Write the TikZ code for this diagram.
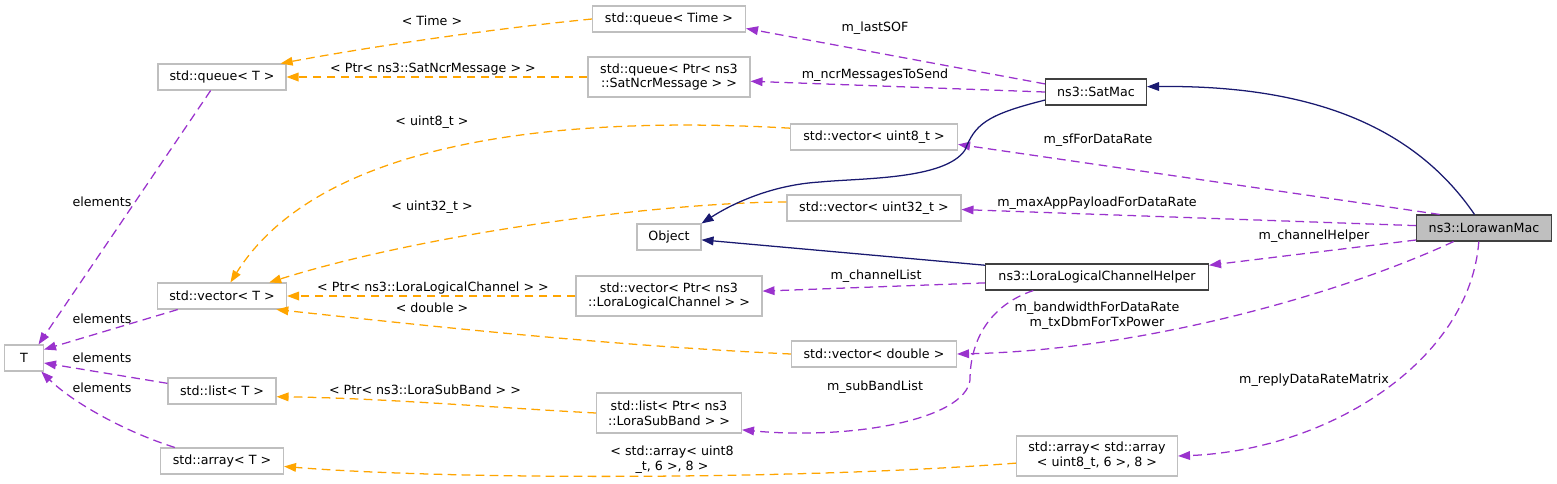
\documentclass[tikz,border=0pt]{standalone}
\usepackage{fontspec}
\setmainfont{DejaVu Sans}
\usetikzlibrary{arrows.meta}
\definecolor{tmplorange}{HTML}{FFA500}
\definecolor{usepurple}{HTML}{9A32CD}
\definecolor{inhnavy}{HTML}{191970}
\definecolor{boxgrey}{HTML}{BFBFBF}
\definecolor{boxdark}{HTML}{404040}
\tikzset{
  cls/.style={draw=boxgrey, fill=white, line width=0.8pt, inner sep=0pt, align=center,
    font=\fontsize{9.5}{11}\selectfont, minimum height=19.5pt},
  clstwo/.style={cls, minimum height=30pt},
  clsdark/.style={cls, draw=boxdark},
  lbl/.style={inner sep=0pt, align=center, font=\fontsize{9.5}{11}\selectfont},
  tmpl/.style={draw=tmplorange, line width=0.95pt, dash pattern=on 6.5pt off 4pt,
    -{Triangle[length=9pt,width=6.5pt,fill=tmplorange]}},
  memb/.style={draw=usepurple, line width=0.95pt, dash pattern=on 6.5pt off 4pt,
    -{Triangle[length=9pt,width=6.5pt,fill=usepurple]}},
  inher/.style={draw=inhnavy, line width=0.95pt,
    -{Triangle[length=9pt,width=6.5pt,fill=inhnavy]}}
}
\begin{document}
\begin{tikzpicture}[x=0.75pt, y=-0.75pt]
        \useasboundingbox (0,0) rectangle (1557,483);
        %% classes (pixel coordinates)
        \node[cls, minimum width=96pt] (qT) at (222,77) {std::queue< T >};
        \node[cls, minimum width=96.75pt] (vT) at (222,296) {std::vector< T >};
        \node[cls, minimum width=29.25pt] (T) at (24,358) {T};
        \node[cls, minimum width=81pt] (lT) at (222,391) {std::list< T >};
        \node[cls, minimum width=92.25pt] (aT) at (222,461) {std::array< T >};
        \node[cls, minimum width=114.75pt] (qTime) at (669,19) {std::queue< Time >};
        \node[clstwo, minimum width=121.5pt] (qNcr) at (669,77) {std::queue< Ptr< ns3\\::SatNcrMessage > >};
        \node[cls, minimum width=48pt] (obj) at (669,237) {Object};
        \node[clstwo, minimum width=139.5pt] (vLLC) at (669,296) {std::vector< Ptr< ns3\\::LoraLogicalChannel > >};
        \node[clstwo, minimum width=108.75pt] (lSub) at (669,413) {std::list< Ptr< ns3\\::LoraSubBand > >};
        \node[cls, minimum width=125.25pt] (v8) at (874,137) {std::vector< uint8\_t >};
        \node[cls, minimum width=130.5pt] (v32) at (874,208) {std::vector< uint32\_t >};
        \node[cls, minimum width=123.75pt] (vDbl) at (874,354) {std::vector< double >};
        \node[clstwo, minimum width=120.75pt] (aa) at (1097,456) {std::array< std::array\\< uint8\_t, 6 >, 8 >};
        \node[clsdark, minimum width=75.75pt] (sat) at (1096,92) {ns3::SatMac};
        \node[clsdark, minimum width=167.25pt] (helper) at (1097,277) {ns3::LoraLogicalChannelHelper};
        \node[clsdark, fill=boxgrey, minimum width=101.25pt] (lw) at (1484,228) {ns3::LorawanMac};

        %% edge labels
        \node[lbl] (lTime) at (432,21) {< Time >};
        \node[lbl] (lNcr) at (433,69) {< Ptr< ns3::SatNcrMessage > >};
        \node[lbl] (lU8) at (432,122) {< uint8\_t >};
        \node[lbl] (lU32) at (432,207) {< uint32\_t >};
        \node[lbl] (lLLC) at (433,288) {< Ptr< ns3::LoraLogicalChannel > >};
        \node[lbl] (lDbl) at (432,308) {< double >};
        \node[lbl] (lSubB) at (425,390) {< Ptr< ns3::LoraSubBand > >};
        \node[lbl] (lArr) at (672,460) {< std::array< uint8\\\_t, 6 >, 8 >};
        \foreach \nm/\py in {lElQ/202, lElV/319, lElL/358, lElA/388}
        {
            \node[lbl] (\nm) at (102,\py) {elements};
        }
        \node[lbl] (lSOF) at (875,28) {m\_lastSOF};
        \node[lbl] (lNcrS) at (875,75) {m\_ncrMessagesToSend};
        \node[lbl] (lSf) at (1098,140) {m\_sfForDataRate};
        \node[lbl] (lMax) at (1097,203) {m\_maxAppPayloadForDataRate};
        \node[lbl] (lCh) at (1314,236) {m\_channelHelper};
        \node[lbl] (lChL) at (876,276) {m\_channelList};
        \node[lbl] (lBw) at (1097,316) {m\_bandwidthForDataRate\\m\_txDbmForTxPower};
        \node[lbl] (lSb) at (875,387) {m\_subBandList};
        \node[lbl] (lRep) at (1314,380) {m\_replyDataRateMatrix};

        %% template instances
        \draw[tmpl] (qTime.west) .. controls (500,28) and (380,45) .. (qT.13);
        \draw[tmpl] (qNcr.west) -- (qT.east);
        \draw[tmpl] (v8.174) .. controls (560,115) and (320,140) .. (vT.58);
        \draw[tmpl] (v32.176) .. controls (650,203) and (420,235) .. (vT.16);
        \draw[tmpl] (vLLC.west) -- (vT.east);
        \draw[tmpl] (vDbl.west) .. controls (600,345) and (420,325) .. (vT.-14);
        \draw[tmpl] (lSub.west) .. controls (500,408) and (380,398) .. (lT.-6);
        \draw[tmpl] (aa.185) .. controls (800,480) and (450,480) .. (aT.-5);

        %% members
        \draw[memb] (qT.-130) -- (T.43);
        \draw[memb] (vT.-163) -- (T.23);
        \draw[memb] (lT.172) -- (T.-14);
        \draw[memb] (aT.164) .. controls (120,430) and (70,400) .. (T.-38);
        \draw[memb] (sat.171) -- (qTime.-7);
        \draw[memb] (sat.west) -- (qNcr.-3);
        \draw[memb] (lw.163) -- (v8.-5);
        \draw[memb] (lw.178) -- (v32.-1);
        \draw[memb] (lw.-170) -- (helper.6);
        \draw[memb] (lw.-156) .. controls (1350,290) and (1150,350) .. (vDbl.east);
        \draw[memb] (lw.-111) .. controls (1470,360) and (1330,450) .. (aa.east);
        \draw[memb] (helper.-177) -- (vLLC.3);
        \draw[memb] (helper.-168) .. controls (990,305) and (970,340) .. (970,380)
            .. controls (965,420) and (850,440) .. (lSub.-13);

        %% inheritance
        \draw[inher] (lw.125) .. controls (1410,120) and (1300,85) .. (sat.6);
        \draw[inher] (sat.-171) .. controls (985,115) and (975,125) .. (965,150)
            .. controls (945,180) and (860,178) .. (820,182)
            .. controls (770,185) and (730,205) .. (obj.north east);
        \draw[inher] (helper.174) -- (obj.-5);
\end{tikzpicture}
\end{document}
